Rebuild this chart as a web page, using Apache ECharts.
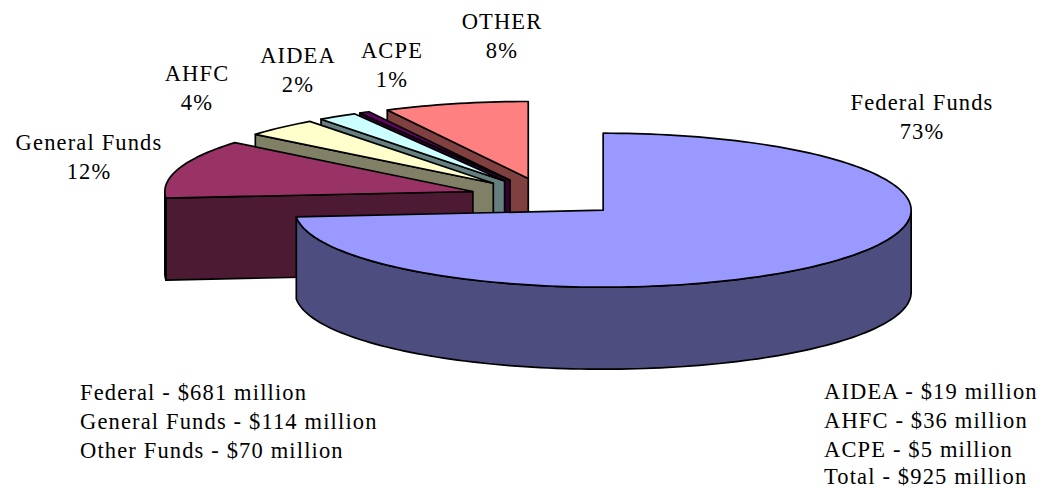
<!DOCTYPE html>
<html><head><meta charset="utf-8">
<style>
html,body{margin:0;padding:0;background:#fff}
#c{width:1057px;height:488px}
svg text{letter-spacing:1.15px}
</style>
<script src="https://cdn.jsdelivr.net/npm/echarts@6/dist/echarts.min.js"></script>
</head><body><div id="c"></div>
<script>
const names = ["Federal Funds","General Funds","AHFC","AIDEA","ACPE","OTHER"];
const amounts = [681,114,36,19,5,70];
const percentLabels = ["73%","12%","4%","2%","1%","8%"];
const topColors = ["#9999FF","#993366","#FFFFCC","#CCFFFF","#660066","#FF8080"];
const wallColors = ["#4D4D80","#4D1A33","#808066","#668080","#330033","#804040"];
const notesLeft = ["Federal - $681 million","General Funds - $114 million","Other Funds - $70 million"];
const notesRight = ["AIDEA - $19 million","AHFC - $36 million","ACPE - $5 million","Total - $925 million"];

const CX=546.4, CY=197.2, RX=308, RY=77, DEPTH=82, EXPLODE=0.25;
const total = amounts.reduce((a,b)=>a+b,0);
const FONT = '"Liberation Serif","Times New Roman",serif';
const rad = d => d*Math.PI/180;

// slices in value order; painted from the last (back) to the first (front)
let acc = 0;
const angles = amounts.map(v => { const s = acc/total*360; acc += v; return [s, acc/total*360]; });
const paintOrder = names.map((_,i)=>i).reverse();

function renderItem(params, api){
  const i = paintOrder[params.dataIndex];
  const span = api.value(0)/total*360;
  const a0 = angles[i][0], a1 = a0+span, mid = (a0+a1)/2;
  const ox = CX+EXPLODE*RX*Math.sin(rad(mid)), oy = CY-EXPLODE*RY*Math.cos(rad(mid));
  const pt = (a,d)=>[ox+RX*Math.sin(rad(a)), oy-RY*Math.cos(rad(a))+(d||0)];
  const arc = (s,e,d)=>{ const n=Math.max(2,Math.ceil((e-s)/1.5)), out=[];
    for(let k=0;k<=n;k++) out.push(pt(s+(e-s)*k/n,d)); return out; };
  const line = {stroke:"#000",lineWidth:1.7,lineJoin:"round"};
  const children=[];
  if(i!==0){
    children.push({type:"polygon",shape:{points:[[ox,oy],pt(a0),pt(a0,DEPTH),[ox,oy+DEPTH]]},
      style:Object.assign({fill:wallColors[i]},line)});
  }
  const ws=Math.max(a0,90), we=Math.min(a1,270);
  if(we>ws){
    children.push({type:"polygon",shape:{points:arc(ws,we,0).concat(arc(ws,we,DEPTH).reverse())},
      style:Object.assign({fill:wallColors[i]},line)});
  }
  children.push({type:"polygon",shape:{points:[[ox,oy]].concat(arc(a0,a1,0))},
    style:Object.assign({fill:topColors[i]},line)});
  return {type:"group",children};
}

const labelPos = [[922,102],[89,142],[197,73],[298,55],[392,50],[502,21]];
const LH = 29.3;
const txt=(s,x,y,align)=>({type:"text",x,y,silent:true,
  style:{text:s,fill:"#000",font:'22.5px '+FONT,textAlign:align,textVerticalAlign:"middle"}});
const texts=[];
names.forEach((n,i)=>{
  texts.push(txt(n,labelPos[i][0],labelPos[i][1],"center"));
  texts.push(txt(percentLabels[i],labelPos[i][0],labelPos[i][1]+LH,"center"));
});
notesLeft.forEach((s,k)=>texts.push(txt(s,80,392+k*LH,"left")));
const notesRightY = [391.5,420.5,449,476.5];
notesRight.forEach((s,k)=>texts.push(txt(s,824,notesRightY[k],"left")));

const chart = echarts.init(document.getElementById("c"),null,{renderer:"svg",width:1057,height:488});
chart.setOption({
  animation:false,
  backgroundColor:"#fff",
  graphic:{elements:texts},
  series:[{type:"custom",coordinateSystem:"none",renderItem,silent:true,
    data:paintOrder.map(i=>[amounts[i]])}]
});
</script></body></html>
